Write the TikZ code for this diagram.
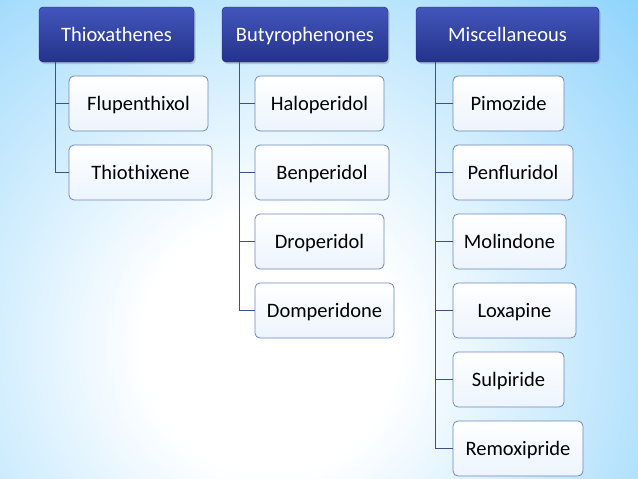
\documentclass[tikz,border=0pt]{standalone}
\usepackage{fontspec}
\setmainfont{Carlito}
\usetikzlibrary{shadows}
\definecolor{bgblue}{RGB}{88,190,250}
\definecolor{hdtop}{RGB}{66,86,188}
\definecolor{hdbot}{RGB}{36,50,138}
\definecolor{boxline}{RGB}{110,135,190}
\definecolor{linecol}{RGB}{60,80,140}
\definecolor{boxbot}{RGB}{236,244,253}
\pgfdeclareradialshading{bgshade}{\pgfpoint{0bp}{0bp}}{color(0bp)=(white); color(5bp)=(white); color(27bp)=(bgblue); color(50bp)=(bgblue)}
\tikzset{
  hdr/.style={rectangle, rounded corners=4pt, top color=hdtop, bottom color=hdbot,
    draw=hdbot!80!black, line width=0.4pt, text=white, font=\fontsize{20.5}{22}\selectfont,
    minimum height=55pt, inner sep=0pt, text height=13.2pt, text depth=0pt,
    drop shadow={shadow xshift=1.5pt, shadow yshift=-2pt, opacity=0.35}},
  item/.style={rectangle, rounded corners=5pt, top color=white, bottom color=boxbot,
    draw=boxline, line width=0.8pt, text=black, font=\fontsize{20.5}{22}\selectfont,
    minimum height=55pt, inner sep=0pt, text height=13.2pt, text depth=0pt},
  conn/.style={draw=linecol, line width=1pt}
}
\begin{document}
\begin{tikzpicture}[x=1pt,y=-1pt]
\useasboundingbox (0,0) rectangle (638,479);
\begin{scope}
\clip (0,0) rectangle (638,479);
\fill[bgblue] (0,0) rectangle (638,479);
\path[shading=bgshade] (270,345) circle (640);
\end{scope}
% headers
\node[hdr, minimum width=155pt] (h1) at (116.5,34.5) {Thioxathenes};
\node[hdr, minimum width=166pt] (h2) at (305,34.5) {Butyrophenones};
\node[hdr, minimum width=183pt] (h3) at (507.5,34.5) {Miscellaneous};
% column 1
\coordinate (c1) at (55,62);
\node[item, minimum width=139pt] (a1) at (138.5,103.5) {Flupenthixol};
\node[item, minimum width=143pt] (a2) at (140.5,172.5) {Thiothixene};
% column 2
\coordinate (c2) at (239,62);
\node[item, minimum width=129pt] (b1) at (319.5,103.5) {Haloperidol};
\node[item, minimum width=134pt] (b2) at (322,172.5) {Benperidol};
\node[item, minimum width=129pt] (b3) at (319.5,241.5) {Droperidol};
\node[item, minimum width=139pt] (b4) at (324.5,310.5) {Domperidone};
% column 3
\coordinate (c3) at (435,62);
\node[item, minimum width=111pt] (m1) at (508.5,103.5) {Pimozide};
\node[item, minimum width=120pt] (m2) at (513,172.5) {Penfluridol};
\node[item, minimum width=113pt] (m3) at (509.5,241.5) {Molindone};
\node[item, minimum width=123pt] (m4) at (514.5,310.5) {Loxapine};
\node[item, minimum width=111pt] (m5) at (508.5,379.5) {Sulpiride};
\node[item, minimum width=130pt] (m6) at (518,448.5) {Remoxipride};
% connectors
\draw[conn] (c1) |- (a1.west);
\draw[conn] (c1) |- (a2.west);
\draw[conn] (c2) |- (b1.west);
\draw[conn] (c2) |- (b2.west);
\draw[conn] (c2) |- (b3.west);
\draw[conn] (c2) |- (b4.west);
\draw[conn] (c3) |- (m1.west);
\draw[conn] (c3) |- (m2.west);
\draw[conn] (c3) |- (m3.west);
\draw[conn] (c3) |- (m4.west);
\draw[conn] (c3) |- (m5.west);
\draw[conn] (c3) |- (m6.west);
\end{tikzpicture}
\end{document}
